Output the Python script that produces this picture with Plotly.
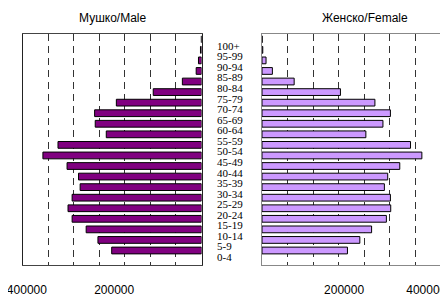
import plotly.graph_objects as go

ages = ["0-4", "5-9", "10-14", "15-19", "20-24", "25-29", "30-34", "35-39",
        "40-44", "45-49", "50-54", "55-59", "60-64", "65-69", "70-74", "75-79",
        "80-84", "85-89", "90-94", "95-99", "100+"]
male = [175600, 202500, 225500, 253000, 261000, 253000, 237300, 240500,
        262900, 310100, 280600, 186200, 207800, 209000, 166500, 94400,
        37400, 10400, 5900, 2000, 400]
female = [167100, 191300, 214300, 243200, 251700, 251100, 239300, 245800,
          269400, 312600, 290400, 203100, 236500, 251100, 220800, 153400,
          62900, 20300, 7900, 1500, 300]
tick_vals = [200000, 400000]
tick_text = ["200000", "400000"]

# page offset of the plot div (body margin)
OFF = 8
W, H = 448 - OFF, 296 - OFF


def px(x):
    return (x - OFF) / W


def py(y):
    return 1 - (y - OFF) / H


mx0, mx1 = px(22.5), px(201.5)
fx0, fx1 = px(262), px(441)
y0, y1 = py(265), py(34)

fig = go.Figure()
fig.add_trace(go.Bar(y=ages, x=male, orientation="h", xaxis="x", yaxis="y",
                     marker=dict(color="#800080", line=dict(color="#000000", width=1)),
                     showlegend=False, hoverinfo="x+y"))
fig.add_trace(go.Bar(y=ages, x=female, orientation="h", xaxis="x2", yaxis="y2",
                     marker=dict(color="#CC99FF", line=dict(color="#000000", width=1)),
                     showlegend=False, hoverinfo="x+y"))
# empty traces so the label axes get drawn
fig.add_trace(go.Scatter(x=[None], y=[None], xaxis="x3", yaxis="y", mode="markers",
                         showlegend=False, hoverinfo="skip"))
fig.add_trace(go.Scatter(x=[None], y=[None], xaxis="x4", yaxis="y2", mode="markers",
                         showlegend=False, hoverinfo="skip"))

grid = dict(showgrid=True, gridcolor="#333333", gridwidth=1, griddash="7px,5px",
            dtick=50000, tick0=0, showticklabels=False, ticks="", zeroline=False,
            showline=True, mirror=True, fixedrange=True)
lab = dict(showgrid=False, showline=False, zeroline=False, ticks="", ticklabelstandoff=16,
           fixedrange=True, tickvals=tick_vals, ticktext=tick_text, side="bottom",
           ticklabeloverflow="allow",
           tickfont=dict(family="Liberation Sans, Arial", size=12, color="#000000"))

fig.update_layout(
    width=W, height=H, margin=dict(l=0, r=0, t=0, b=0, autoexpand=False),
    paper_bgcolor="white", plot_bgcolor="white",
    bargap=0.36,
    font=dict(family="Liberation Sans, Arial", size=12, color="#000000"),
    xaxis=dict(domain=[mx0, mx1], range=[350000, 0], anchor="y", linecolor="#444444", **grid),
    xaxis2=dict(domain=[fx0, fx1], range=[0, 350000], anchor="y2", linecolor="#888888", **grid),
    xaxis3=dict(overlaying="x", anchor="y", range=[410000, 0], **lab),
    xaxis4=dict(overlaying="x2", anchor="y2", range=[0, 436000], **lab),
    yaxis=dict(domain=[y0, y1], anchor="x", showticklabels=False, ticks="", showgrid=False,
               showline=True, mirror=True, linecolor="#222222", zeroline=False,
               categoryorder="array", categoryarray=ages, fixedrange=True),
    yaxis2=dict(domain=[y0, y1], anchor="x2", matches="y", showticklabels=False, ticks="",
                showgrid=False, showline=True, mirror=True, linecolor="#888888",
                zeroline=False, categoryorder="array", categoryarray=ages, fixedrange=True),
)

annotations = []
for a in ages:
    annotations.append(dict(x=px(215), xref="paper", xanchor="left", y=a, yref="y",
                            yanchor="middle", yshift=-6.5, text=a, showarrow=False,
                            font=dict(family="Liberation Serif, Times New Roman", size=11,
                                      color="#000000")))
annotations.append(dict(x=px(112), y=py(18), xref="paper", yref="paper", text="Мушко/Male",
                        showarrow=False, xanchor="center", yanchor="middle",
                        font=dict(family="Liberation Sans, Arial", size=12, color="#000000")))
annotations.append(dict(x=px(365), y=py(18), xref="paper", yref="paper", text="Женско/Female",
                        showarrow=False, xanchor="center", yanchor="middle",
                        font=dict(family="Liberation Sans, Arial", size=12, color="#000000")))
fig.update_layout(annotations=annotations)

fig.write_html("out.html")
